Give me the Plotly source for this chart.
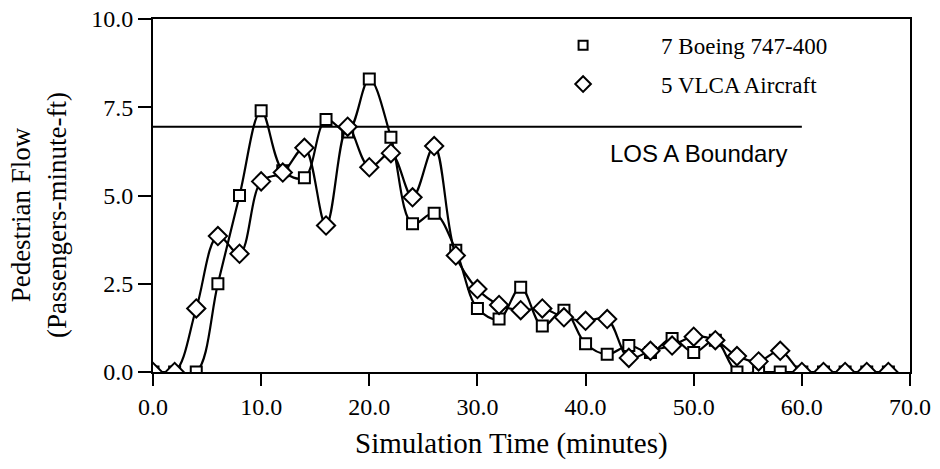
import plotly.graph_objects as go

time_min = [0, 2, 4, 6, 8, 10, 12, 14, 16, 18, 20, 22, 24, 26, 28, 30, 32, 34,
            36, 38, 40, 42, 44, 46, 48, 50, 52, 54, 56, 58, 60, 62, 64, 66, 68]
boeing_747 = [0, 0, 0, 2.5, 5.0, 7.4, 5.7, 5.5, 7.15, 6.8, 8.3, 6.65, 4.2, 4.5, 3.45,
              1.8, 1.5, 2.4, 1.3, 1.75, 0.8, 0.5, 0.75, 0.55, 0.95, 0.55, 0.9,
              0, 0, 0, 0, 0, 0, 0, 0]
vlca = [0, 0, 1.8, 3.85, 3.35, 5.4, 5.65, 6.35, 4.15, 6.95, 5.8, 6.2, 4.95, 6.4, 3.3,
        2.35, 1.9, 1.75, 1.8, 1.55, 1.45, 1.5, 0.4, 0.6, 0.75, 1.0, 0.9,
        0.45, 0.3, 0.6, 0, 0, 0, 0, 0]
los_a_boundary = 6.95
los_x = [0, 60]

x_ticks = [0, 10, 20, 30, 40, 50, 60, 70]
y_ticks = [0, 2.5, 5.0, 7.5, 10.0]

serif = "Liberation Serif, Times New Roman, serif"
sans = "Liberation Sans, Arial, sans-serif"

sq_marker = dict(symbol="square", size=11, color="white",
                 line=dict(color="black", width=2))
dm_marker = dict(symbol="diamond", size=14, color="white",
                 line=dict(color="black", width=2))

fig = go.Figure()

fig.add_trace(go.Scatter(
    x=los_x, y=[los_a_boundary] * len(los_x), mode="lines",
    line=dict(color="black", width=2), showlegend=False, hoverinfo="skip"))

fig.add_trace(go.Scatter(
    x=time_min, y=boeing_747, mode="lines+markers",
    line=dict(color="black", width=2.2, shape="spline", smoothing=1),
    marker=sq_marker, showlegend=False, name="7 Boeing 747-400"))

fig.add_trace(go.Scatter(
    x=time_min, y=vlca, mode="lines+markers",
    line=dict(color="black", width=2.2, shape="spline", smoothing=1),
    marker=dm_marker, showlegend=False, name="5 VLCA Aircraft"))

# legend-only entries (markers only)
fig.add_trace(go.Scatter(
    x=[None], y=[None], mode="markers", name="7 Boeing 747-400",
    legendgroup="a", marker=dict(sq_marker, size=9)))
fig.add_trace(go.Scatter(
    x=[None], y=[None], mode="markers", name="5 VLCA Aircraft",
    legendgroup="b", marker=dict(dm_marker, size=12)))

fig.add_annotation(
    x=50.4, y=6.2, xref="x", yref="y", text="LOS A Boundary",
    showarrow=False, font=dict(family=sans, size=24, color="black"))

fig.add_annotation(
    x=0.473, y=-0.202, xref="paper", yref="paper",
    text="Simulation Time (minutes)", showarrow=False,
    xanchor="center", yanchor="middle",
    font=dict(family=serif, size=29, color="black"))

fig.add_annotation(
    x=-0.151, y=0.444, xref="paper", yref="paper",
    text="Pedestrian Flow<br>(Passengers-minute-ft)", showarrow=False,
    textangle=-90, xanchor="center", yanchor="middle",
    font=dict(family=serif, size=27, color="black"))

fig.update_layout(
    width=940, height=469,
    margin=dict(l=153, r=30, t=19, b=97, autoexpand=False),
    paper_bgcolor="white", plot_bgcolor="white",
    font=dict(family=serif, color="black", size=24),
    legend=dict(x=0.4651, y=0.9867, xanchor="left", yanchor="top",
                bgcolor="rgba(0,0,0,0)", itemwidth=146,
                font=dict(family=serif, size=23, color="black"),
                tracegroupgap=6),
    xaxis=dict(range=[0, 70], tickvals=x_ticks, tickformat=".1f",
               showgrid=False, zeroline=False, automargin=False,
               ticklabeloverflow="allow",
               showline=True, linecolor="black", linewidth=2, mirror=True,
               ticks="outside", ticklen=12, tickwidth=2, tickcolor="black",
               tickfont=dict(family=serif, size=24)),
    yaxis=dict(range=[0, 10], tickvals=y_ticks, tickformat=".1f",
               showgrid=False, zeroline=False, automargin=False,
               ticklabeloverflow="allow",
               showline=True, linecolor="black", linewidth=2, mirror=True,
               ticks="outside", ticklen=13, tickwidth=2, tickcolor="black",
               tickfont=dict(family=serif, size=24)),
)

fig.write_html("out.html",
               config={"displayModeBar": False},
               post_script="document.body.style.margin='0';")
